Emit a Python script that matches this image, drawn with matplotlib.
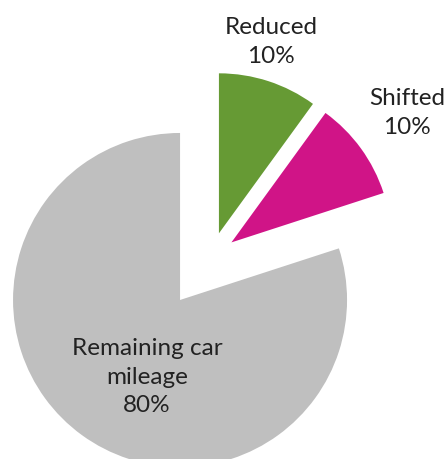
import matplotlib
matplotlib.use('Agg')
from matplotlib import pyplot as plt

# share of car mileage
names = ['Reduced', 'Shifted', 'Remaining car\nmileage']
shares = [10, 10, 80]
colors = ['#669A34', '#D01487', '#BFBFBF']

W, H = 448, 459
fig = plt.figure(figsize=(W / 100, H / 100), dpi=100)
ax = fig.add_axes([0, 0, 1, 1])

# explode is in data units here (pixels), not a fraction
wedges, _ = ax.pie(shares, colors=colors, startangle=90, counterclock=False,
                   radius=160, center=(211.2, H - 257.1),
                   explode=[25, 25, 53], frame=True)
wedges[2].set_radius(167)
ax.set_xlim(0, W)
ax.set_ylim(0, H)
ax.set_aspect('equal')
ax.axis('off')

label_pos = [(271, 42), (407, 113), (147, 377)]
for name, val, (x, y) in zip(names, shares, label_pos):
    ax.text(x, H - y, '%s\n%d%%' % (name, val), ha='center', va='center',
            multialignment='center', fontsize=17.5, family='Lato',
            color='#222222', linespacing=1.45)

fig.savefig('out.png', dpi=100)
